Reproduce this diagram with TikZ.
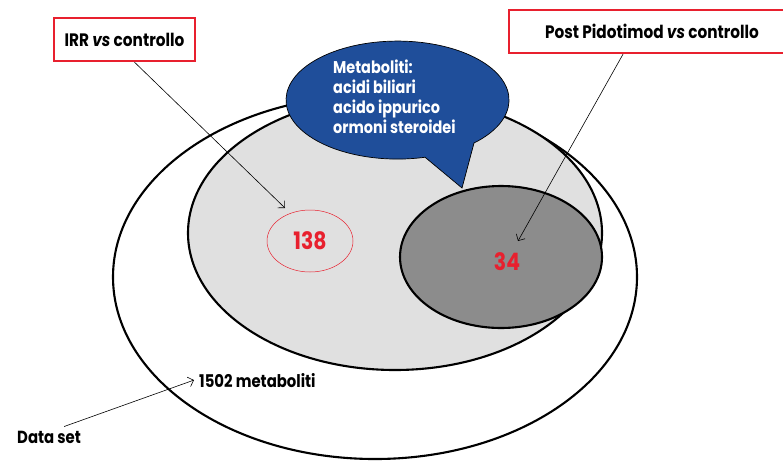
\documentclass[tikz,border=0pt]{standalone}
\usepackage{fontspec}
\setmainfont{Poppins}[FakeStretch=0.85]
\usetikzlibrary{arrows.meta,positioning,shapes.geometric}
\definecolor{vennred}{HTML}{E8202E}
\definecolor{vennblue}{HTML}{1F4E9A}
\definecolor{venngray}{HTML}{E0E0E0}
\definecolor{venndark}{HTML}{8C8C8C}

\begin{document}
\begin{tikzpicture}[x=1pt, y=-1pt,
  setline/.style={draw=black, line width=2.1pt},
  redbox/.style={draw=vennred, line width=2.4pt, minimum height=43pt, inner xsep=0pt, font=\bfseries\fontsize{18}{20}\selectfont},
  tag/.style={inner sep=0pt, font=\bfseries\fontsize{17.5}{20}\selectfont},
  count/.style={text=vennred, inner sep=0pt, font=\bfseries\fontsize{24}{26}\selectfont},
  pointer/.style={-{Straight Barb[length=5pt,width=10pt]}, line width=0.6pt}
]
\useasboundingbox (0,0) rectangle (783,461);

% insiemi
\node[ellipse, setline, fill=white, minimum width=524pt, minimum height=364pt] (dataall) at (375,277) {};
\node[ellipse, setline, fill=venngray, minimum width=414pt, minimum height=274pt] (irrset) at (395,233) {};
\node[ellipse, setline, fill=venndark, minimum width=202pt, minimum height=142pt] (postset) at (501,257) {};
\node[ellipse, draw=vennred, line width=0.5pt, minimum width=86pt, minimum height=62pt, count] (s138) at (310,241) {138};
\node[count] (n34) at (507,262) {34};

% fumetto
\draw[fill=vennblue, draw=black, line width=0.7pt]
  (474,143) arc[start angle=46.7, end angle=-284.3, x radius=111.5, y radius=59] -- (462,188) -- cycle;
\node[anchor=north west, align=left, text=white, inner sep=0pt, font=\bfseries\fontsize{17}{20}\selectfont] (metab) at (333,60)
  {Metaboliti:\\acidi biliari\\acido ippurico\\ormoni steroidei};

% etichette
\node[redbox, minimum width=141pt] (irr) at (124.5,39.5) {IRR \textit{vs} controllo};
\node[redbox, minimum width=286pt] (post) at (652,31.5) {Post Pidotimod \textit{vs} controllo};
\node[tag, anchor=base west] (n1502) at (199,387) {1502 metaboliti};
\node[tag, anchor=base west] (dataset) at (17,443) {Data set};

\coordinate (irrtip) at (285,208);
\coordinate (posttip) at (518,241);
\draw[pointer] ([xshift=10pt]irr.south) -- (irrtip);
\draw[pointer] ([xshift=-29pt]post.south) -- (posttip);
\draw[pointer] ([xshift=-17pt,yshift=4pt]dataset.north east) -- ([xshift=-5pt]n1502.west);
\end{tikzpicture}
\end{document}
